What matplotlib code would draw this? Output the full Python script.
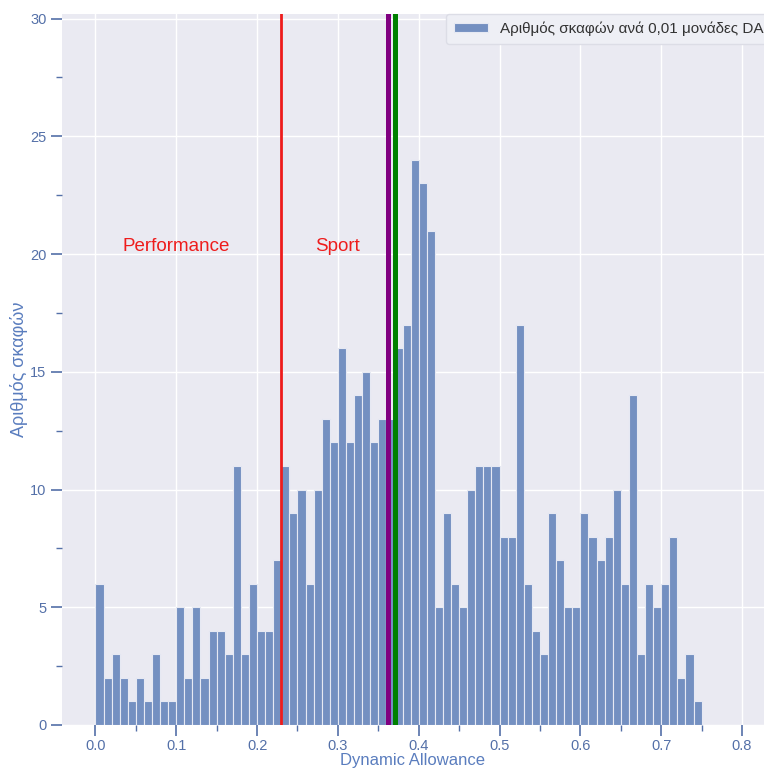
import matplotlib
matplotlib.use("Agg")
import matplotlib.pyplot as plt
from matplotlib.ticker import MultipleLocator, FuncFormatter
import numpy as np

# histogram counts, one per 0.01 bin starting at 0.00
bin_width = 0.01
counts = [
    6, 2, 3, 2, 1, 2, 1, 3, 1, 1,
    5, 2, 5, 2, 4, 4, 3, 11, 3, 6,
    4, 4, 7, 11, 9, 10, 6, 10, 13, 12,
    16, 12, 14, 15, 12, 13, 13, 16, 17, 24,
    23, 21, 5, 9, 6, 5, 10, 11, 11, 11,
    8, 8, 17, 6, 4, 3, 9, 7, 5, 5,
    9, 8, 7, 8, 10, 6, 14, 3, 6, 5,
    6, 8, 2, 3, 1,
]
bin_edges = np.arange(len(counts)) * bin_width

# class boundary and summary markers
performance_limit = 0.23
purple_marker = 0.362
green_marker = 0.371

region_labels = ["Performance", "Sport"]
region_label_x = [0.10, 0.30]
region_label_y = 20.3

legend_label = "Αριθμός σκαφών ανά 0,01 μονάδες DA"
x_title = "Dynamic Allowance"
y_title = "Αριθμός σκαφών"

plt.rcParams["font.family"] = ["Liberation Sans", "DejaVu Sans"]

tick_color = "#5470A8"
title_color = "#5A7DBE"

fig = plt.figure(figsize=(7.64, 7.71), dpi=100)
ax = fig.add_axes([0.081, 0.0597, 0.9188, 0.9223])
ax.set_facecolor("#EAEAF2")

ax.bar(bin_edges, counts, width=bin_width, align="edge", color="#7490C1",
       edgecolor="#E6E9F3", linewidth=0.8, label=legend_label, zorder=2)

ax.axvline(performance_limit, color="#EE1C1C", linewidth=2.0, zorder=3)
ax.axvline(purple_marker, color="#800080", linewidth=3.6, zorder=3)
ax.axvline(green_marker, color="#008000", linewidth=3.6, zorder=3)

for label, lx in zip(region_labels, region_label_x):
    ax.text(lx, region_label_y, label, color="#EE1C1C", fontsize=13.5,
            ha="center", va="center", zorder=4)

ax.set_xlim(-0.0415, 0.827)
ax.set_ylim(0, 30.2)

ax.xaxis.set_major_locator(MultipleLocator(0.1))
ax.xaxis.set_minor_locator(MultipleLocator(0.05))
ax.yaxis.set_major_locator(MultipleLocator(5))
ax.yaxis.set_minor_locator(MultipleLocator(2.5))
ax.xaxis.set_major_formatter(FuncFormatter(lambda v, p: f"{v:.1f}"))

ax.grid(True, which="major", color="white", linewidth=1.0, zorder=0)
ax.set_axisbelow(True)
for spine in ax.spines.values():
    spine.set_visible(False)

ax.tick_params(axis="both", which="major", direction="out", length=8, width=1.2,
               color=tick_color, labelcolor=tick_color, labelsize=10.5, pad=3)
ax.tick_params(axis="x", which="major", pad=2)
ax.tick_params(axis="both", which="minor", direction="out", length=4, width=1.0,
               color=tick_color)

ax.set_xlabel(x_title, color=title_color, fontsize=12, labelpad=0)
ax.set_ylabel(y_title, color=title_color, fontsize=13)
ax.yaxis.set_label_coords(-0.048, 0.5)

leg = ax.legend(loc="upper right", bbox_to_anchor=(1.01, 1.0), fontsize=11,
                frameon=True, borderaxespad=0.0, handlelength=2.2,
                handleheight=0.6, borderpad=0.5)
leg.get_frame().set_facecolor("#EEEFF5")
leg.get_frame().set_edgecolor("#DCDDE6")
leg.get_frame().set_alpha(1.0)
for text in leg.get_texts():
    text.set_color("#333333")

fig.savefig("out.png", dpi=100, facecolor="white")
